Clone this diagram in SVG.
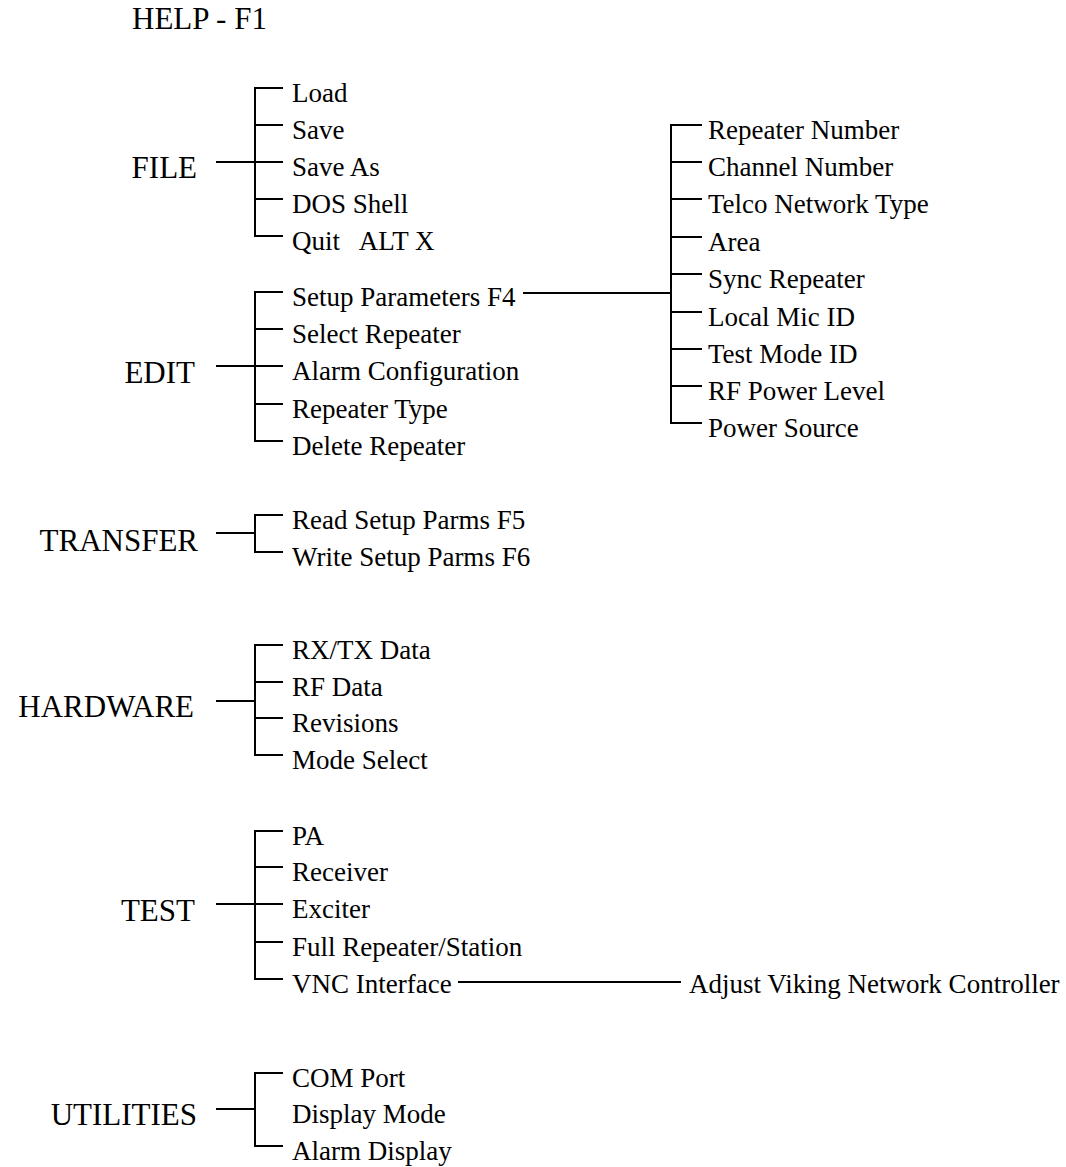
<svg xmlns="http://www.w3.org/2000/svg" width="1066" height="1167" viewBox="0 0 1066 1167">
  <style>
    .cat { font-family: "Liberation Serif", "Times New Roman", serif; font-size: 31px; fill: #000; }
    .item { font-family: "Liberation Serif", "Times New Roman", serif; font-size: 27px; fill: #000; }
    .ln { stroke: #000; stroke-width: 2; fill: none; stroke-linecap: butt; }
  </style>
  <rect width="1066" height="1167" fill="#fff"/>

  <!-- Menu tree connectors -->
  <g id="connectors" class="ln">
    <!-- FILE -->
    <path d="M216 162H255M283 88H255V236H283M255 125H283M255 162H283M255 199H283"/>
    <!-- EDIT -->
    <path d="M216 366H255M283 292H255V441H283M255 329H283M255 366H283M255 404H283"/>
    <!-- Setup Parameters submenu -->
    <path d="M523 293H671M702 125H671V423H702M671 162H702M671 199H702M671 237H702M671 274H702M671 312H702M671 349H702M671 386H702"/>
    <!-- TRANSFER -->
    <path d="M216 533H255M283 515H255V552H283"/>
    <!-- HARDWARE -->
    <path d="M216 701H255M283 645H255V755H283M255 682H283M255 718H283"/>
    <!-- TEST -->
    <path d="M216 904H255M283 831H255V979H283M255 867H283M255 904H283M255 942H283"/>
    <!-- VNC Interface link -->
    <path d="M458 982H681"/>
    <!-- UTILITIES -->
    <path d="M216 1109H255M283 1073H255V1146H283"/>
  </g>

  <g id="help"><text class="cat" x="132" y="29">HELP - F1</text></g>

  <g id="file">
    <text class="cat" x="197" y="178" text-anchor="end">FILE</text>
    <text class="item" x="292" y="102">Load</text>
    <text class="item" x="292" y="139">Save</text>
    <text class="item" x="292" y="176">Save As</text>
    <text class="item" x="292" y="213">DOS Shell</text>
    <text class="item" x="292" y="250" xml:space="preserve">Quit   ALT X</text>
  </g>

  <g id="edit">
    <text class="cat" x="195" y="383" text-anchor="end">EDIT</text>
    <text class="item" x="292" y="306">Setup Parameters F4</text>
    <text class="item" x="292" y="343">Select Repeater</text>
    <text class="item" x="292" y="380">Alarm Configuration</text>
    <text class="item" x="292" y="418">Repeater Type</text>
    <text class="item" x="292" y="455">Delete Repeater</text>
  </g>

  <g id="setup-parameters">
    <text class="item" x="708" y="139">Repeater Number</text>
    <text class="item" x="708" y="176">Channel Number</text>
    <text class="item" x="708" y="213">Telco Network Type</text>
    <text class="item" x="708" y="251">Area</text>
    <text class="item" x="708" y="288">Sync Repeater</text>
    <text class="item" x="708" y="326">Local Mic ID</text>
    <text class="item" x="708" y="363">Test Mode ID</text>
    <text class="item" x="708" y="400">RF Power Level</text>
    <text class="item" x="708" y="437">Power Source</text>
  </g>

  <g id="transfer">
    <text class="cat" x="198" y="551" text-anchor="end">TRANSFER</text>
    <text class="item" x="292" y="529">Read Setup Parms F5</text>
    <text class="item" x="292" y="566">Write Setup Parms F6</text>
  </g>

  <g id="hardware">
    <text class="cat" x="194" y="717" text-anchor="end">HARDWARE</text>
    <text class="item" x="292" y="659">RX/TX Data</text>
    <text class="item" x="292" y="696">RF Data</text>
    <text class="item" x="292" y="732">Revisions</text>
    <text class="item" x="292" y="769">Mode Select</text>
  </g>

  <g id="test">
    <text class="cat" x="195" y="921" text-anchor="end">TEST</text>
    <text class="item" x="292" y="845">PA</text>
    <text class="item" x="292" y="881">Receiver</text>
    <text class="item" x="292" y="918">Exciter</text>
    <text class="item" x="292" y="956">Full Repeater/Station</text>
    <text class="item" x="292" y="993">VNC Interface</text>
  </g>

  <g id="vnc-controller">
    <text class="item" x="689" y="993">Adjust Viking Network Controller</text>
  </g>

  <g id="utilities">
    <text class="cat" x="197" y="1125" text-anchor="end">UTILITIES</text>
    <text class="item" x="292" y="1087">COM Port</text>
    <text class="item" x="292" y="1123">Display Mode</text>
    <text class="item" x="292" y="1160">Alarm Display</text>
  </g>
</svg>
